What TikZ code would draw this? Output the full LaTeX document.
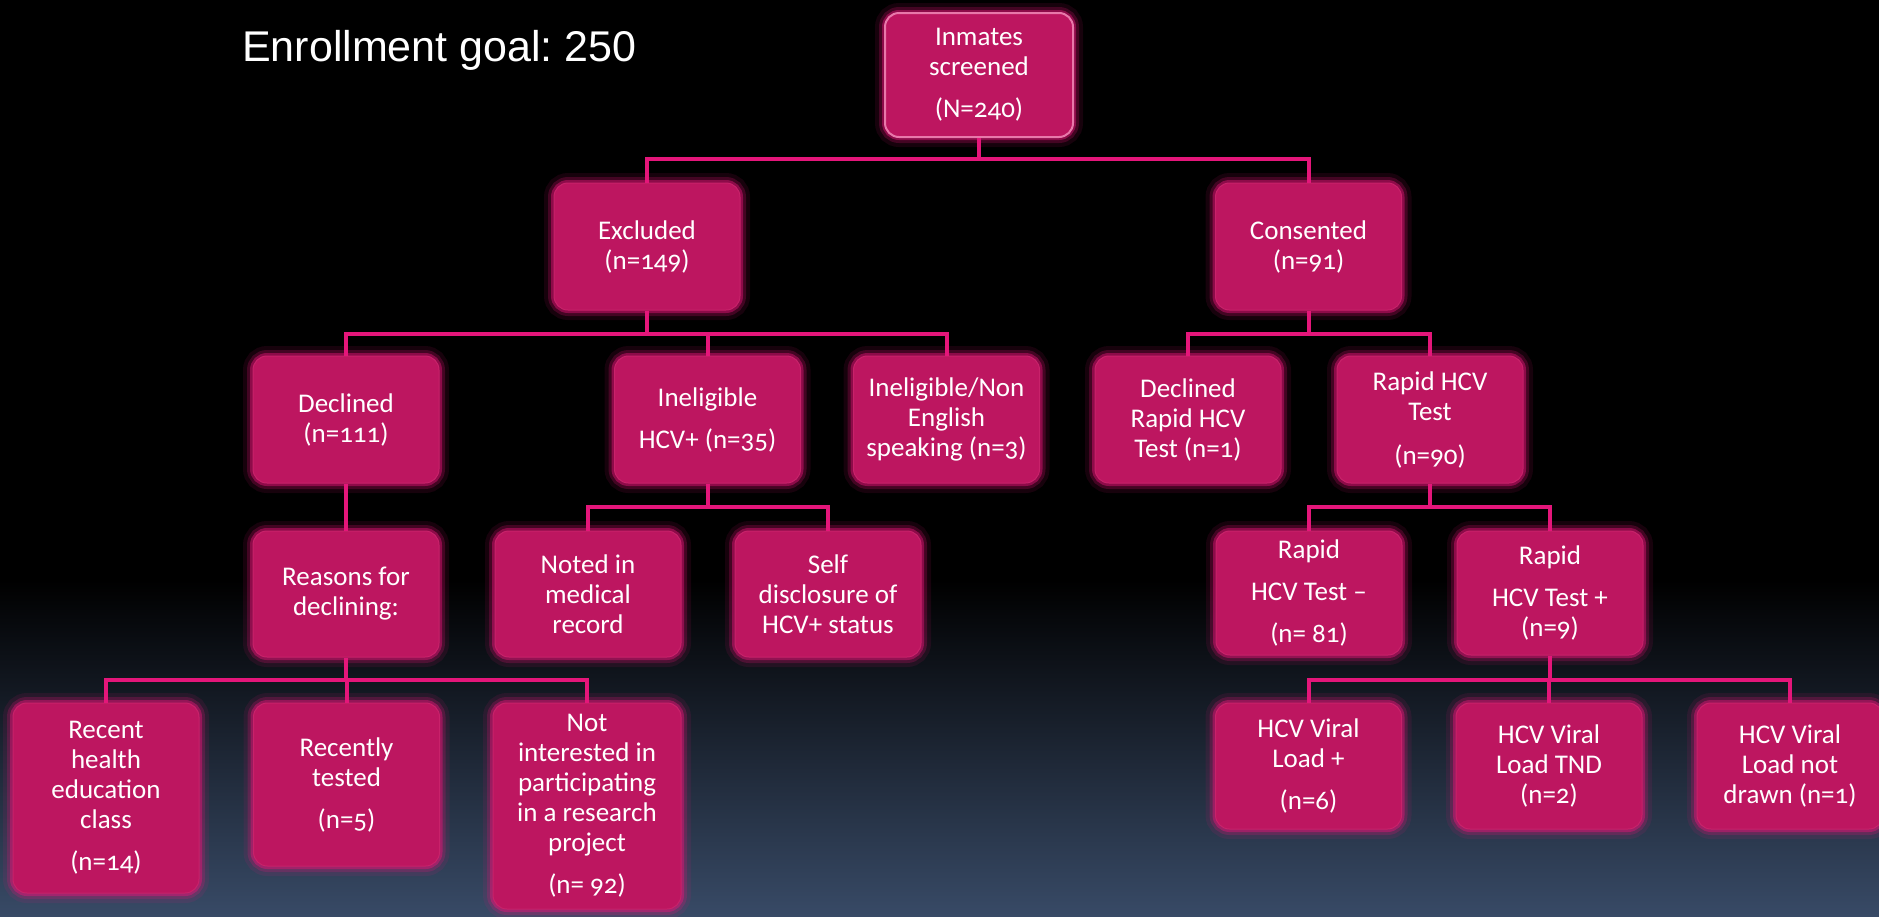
\documentclass[tikz,border=0pt]{standalone}
\usepackage{fontspec}
\setmainfont{Carlito}[Numbers=OldStyle]
\newfontfamily\arialf{Liberation Sans}
\frenchspacing
\definecolor{boxfill}{RGB}{189,22,96}
\definecolor{boxedge}{RGB}{200,34,106}
\definecolor{inmedge}{RGB}{232,120,170}
\definecolor{linepink}{RGB}{228,22,122}
\definecolor{glowpink}{RGB}{230,20,120}
\definecolor{bgbot}{RGB}{56,74,102}
\begin{document}
\begin{tikzpicture}[x=1pt,y=-1pt,
  fbox/.style={rectangle, rounded corners=14pt, fill=boxfill, draw=boxedge, line width=1pt,
    text=white, align=center, font=\fontsize{27}{30}\selectfont, inner sep=2pt,
    minimum width=186pt, minimum height=126pt,
    preaction={draw=glowpink, line width=20pt, opacity=0.10},
    preaction={draw=glowpink, line width=12pt, opacity=0.22},
    preaction={draw=glowpink, line width=6pt, opacity=0.45}},
  conn/.style={draw=linepink, line width=4pt}]
\useasboundingbox (0,0) rectangle (1879,916);
\fill[black] (0,0) rectangle (1879,916);
\shade[top color=black, bottom color=bgbot] (0,580) rectangle (1879,916);

\node[anchor=base west, text=white, font=\arialf\fontsize{43}{48}\selectfont, inner sep=0pt] (goal) at (242,61) {Enrollment goal: 250};

% row 1
\node[fbox, draw=inmedge, line width=2pt, minimum width=188pt, minimum height=124pt] (inm) at (979,75) {Inmates\\screened\\[12pt](N=240)};
% row 2
\node[fbox, minimum height=127pt] (exc) at (647,246.5) {Excluded\\(n=149)};
\node[fbox, minimum height=127pt] (con) at (1308.5,246.5) {Consented\\(n=91)};
% row 3
\node[fbox, minimum height=127pt] (dec) at (346,419.5) {Declined\\(n=111)};
\node[fbox, minimum height=127pt] (ine) at (707.5,419.5) {Ineligible\\[12pt]HCV+ (n=35)};
\node[fbox, minimum height=127pt] (inn) at (946.5,419.5) {Ineligible/Non\\English\\speaking (n=3)};
\node[fbox, minimum height=127pt] (drt) at (1188,419.5) {Declined\\Rapid HCV\\Test (n=1)};
\node[fbox, minimum height=127pt] (rap) at (1430,419.5) {Rapid HCV\\Test\\[14pt](n=90)};
% row 4
\node[fbox] (rea) at (346,594) {Reasons for\\declining:};
\node[fbox] (noted) at (588,594) {Noted in\\medical\\record};
\node[fbox] (sel) at (828,594) {Self\\disclosure of\\HCV+ status};
\node[fbox, minimum height=124pt] (rm) at (1309,593) {Rapid\\[12pt]HCV Test --\\[12pt](n= 81)};
\node[fbox, minimum height=124pt] (rp) at (1550,593) {Rapid\\[12pt]HCV Test +\\(n=9)};
% row 5
\node[fbox, minimum height=190pt] (rec) at (106,798) {Recent\\health\\education\\class\\[12pt](n=14)};
\node[fbox, minimum height=163pt] (rt) at (346.5,784.5) {Recently\\tested\\[12pt](n=5)};
\node[fbox, minimum width=188pt, minimum height=206pt] (ni) at (587,806) {Not\\interested in\\participating\\in a research\\project\\[12pt](n= 92)};
\node[fbox] (vla) at (1308.5,766) {HCV Viral\\Load +\\[12pt](n=6)};
\node[fbox] (vlb) at (1549,766) {HCV Viral\\Load TND\\(n=2)};
\node[fbox] (vlc) at (1790,766) {HCV Viral\\Load not\\drawn (n=1)};

% connectors
\coordinate (b1) at (979,159);
\draw[conn] (inm.south) -- (b1);
\draw[conn] (exc.north) |- (b1) -| (con.north);

\coordinate (b2) at (647,334);
\draw[conn] (exc.south) -- (b2);
\draw[conn] (dec.north) |- (b2) -| (inn.north);
\draw[conn] (ine.north) -- (ine.north |- b2);

\coordinate (b3) at (1308.5,334);
\draw[conn] (con.south) -- (b3);
\draw[conn] (drt.north) |- (b3) -| (rap.north);

\draw[conn] (dec.south) -- (rea.north);

\coordinate (b4) at (707.5,507);
\draw[conn] (ine.south) -- (b4);
\draw[conn] (noted.north) |- (b4) -| (sel.north);

\coordinate (b5) at (1430,507);
\draw[conn] (rap.south) -- (b5);
\draw[conn] (rm.north) |- (b5) -| (rp.north);

\coordinate (b6) at (346,680);
\draw[conn] (rea.south) -- (b6);
\draw[conn] (rec.north) |- (b6) -| (ni.north);
\draw[conn] (rt.north) -- (rt.north |- b6);

\coordinate (b7) at (1550,680);
\draw[conn] (rp.south) -- (b7);
\draw[conn] (vla.north) |- (b7) -| (vlc.north);
\draw[conn] (vlb.north) -- (vlb.north |- b7);
\end{tikzpicture}
\end{document}
